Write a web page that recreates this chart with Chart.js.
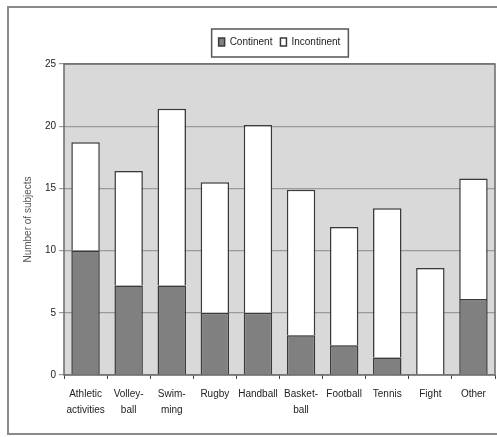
<!DOCTYPE html>
<html>
<head>
<meta charset="utf-8">
<script src="https://cdn.jsdelivr.net/npm/chart.js@4/dist/chart.umd.min.js"></script>
<style>
  html, body { margin: 0; padding: 0; background: #fff; }
  #wrap { width: 497px; height: 437px; position: relative; }
</style>
</head>
<body>
<div id="wrap"><canvas id="sports-chart" width="497" height="437"></canvas></div>
<script>
// categories and values
var sports = [["Athletic", "activities"], ["Volley-", "ball"], ["Swim-", "ming"], "Rugby", "Handball",
  ["Basket-", "ball"], "Football", "Tennis", "Fight", "Other"];
var continent = [10, 7.2, 7.2, 5, 5, 3.2, 2.4, 1.4, 0, 6.1];
var incontinent = [8.7, 9.2, 14.2, 10.5, 15.1, 11.7, 9.5, 12, 8.6, 9.7];
var yTicks = [0, 5, 10, 15, 20, 25];

var fontName = "'Liberation Sans Narrow', 'Liberation Sans', Arial, sans-serif";

// grey plot background, outer frame and legend box
var decor = {
  id: 'decor',
  beforeLayout: function(chart) {
    var lg = chart.legend;
    if (lg && !lg._patched) {
      var fit = lg.fit;
      lg.fit = function() { fit.call(this); this.height += 7; };
      lg._patched = true;
    }
  },
  afterLayout: function(chart) {
    // centre the legend over the plot, not over the whole canvas
    var lg = chart.legend, a = chart.chartArea;
    lg.left = a.left;
    lg.right = a.right;
    lg.width = a.right - a.left;
    lg.adjustHitBoxes();
  },
  beforeDraw: function(chart) {
    var ctx = chart.ctx, a = chart.chartArea;
    ctx.save();
    ctx.fillStyle = '#fff';
    ctx.fillRect(0, 0, chart.width, chart.height);
    ctx.strokeStyle = '#8a8a8a';
    ctx.lineWidth = 2;
    ctx.strokeRect(8, 7, 520, 427);
    ctx.fillStyle = '#d9d9d9';
    ctx.fillRect(a.left, a.top, a.right - a.left, a.bottom - a.top);
    ctx.restore();
  },
  afterDraw: function(chart) {
    var ctx = chart.ctx, a = chart.chartArea, lg = chart.legend;
    ctx.save();
    ctx.strokeStyle = '#6a6a6a';
    ctx.lineWidth = 1.5;
    ctx.strokeRect(a.left, a.top, a.right - a.left, a.bottom - a.top);
    var boxes = lg.legendHitBoxes;
    if (boxes && boxes.length) {
      var first = boxes[0], last = boxes[boxes.length - 1];
      var x0 = first.left - 7, x1 = last.left + last.width + 8;
      var y0 = lg.top, y1 = lg.top + 28;
      ctx.strokeStyle = '#555';
      ctx.lineWidth = 1.5;
      ctx.strokeRect(x0, y0, x1 - x0, y1 - y0);
    }
    ctx.restore();
  }
};

new Chart(document.getElementById("sports-chart"), {
  type: 'bar',
  data: {
    labels: sports,
    datasets: [{
        label: "Continent",
        data: continent,
        backgroundColor: '#808080',
        borderColor: '#3a3a3a',
        borderWidth: 1.5
      }, {
        label: "Incontinent",
        data: incontinent,
        backgroundColor: '#ffffff',
        borderColor: '#3a3a3a',
        borderWidth: 1.5
      }
    ]
  },
  plugins: [decor],
  options: {
    responsive: false,
    animation: false,
    devicePixelRatio: 1,
    layout: { padding: { left: 22, right: 2, top: 29, bottom: 0 } },
    datasets: { bar: { categoryPercentage: 1.0, barPercentage: 0.66 } },
    plugins: {
      tooltip: { enabled: false },
      legend: {
        display: true,
        position: 'top',
        labels: {
          boxWidth: 6,
          boxHeight: 8,
          padding: 8,
          color: '#222',
          font: { family: fontName, size: 10 }
        }
      }
    },
    scales: {
      x: {
        stacked: true,
        offset: true,
        grid: { display: true, offset: true, drawOnChartArea: false, tickLength: 4, color: '#444', lineWidth: 1 },
        border: { display: false },
        ticks: { color: '#222', maxRotation: 0, autoSkip: false, padding: 7, font: { family: fontName, size: 10, lineHeight: 1.6 } },
        afterFit: function(scale) { scale.height = 62; }
      },
      y: {
        stacked: true,
        min: 0,
        max: 25,
        afterBuildTicks: function(scale) { scale.ticks = yTicks.map(function(v) { return { value: v }; }); },
        grid: { color: '#9a9a9a', lineWidth: 1.2, tickLength: 5 },
        border: { display: false },
        ticks: { color: '#222', padding: 3, font: { family: fontName, size: 10 } },
        title: { display: true, text: 'Number of subjects', color: '#555', padding: { top: 0, bottom: 4 }, font: { family: fontName, size: 10 } },
        afterFit: function(scale) { scale.width = 42; }
      }
    }
  }
});
</script>
</body>
</html>
